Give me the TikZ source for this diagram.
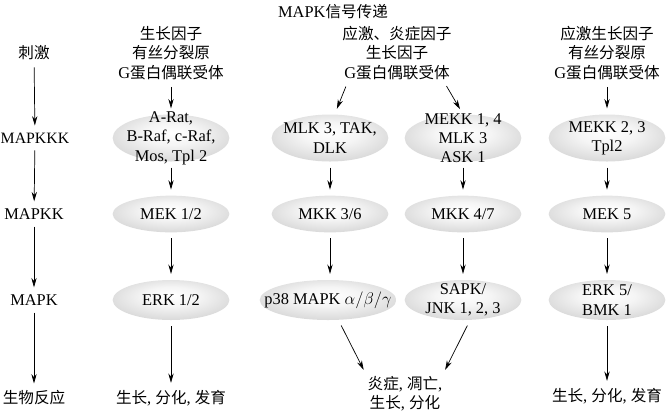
\documentclass[tikz,border=0pt]{standalone}
\usepackage{fontspec}
\setmainfont{Liberation Serif}
\newfontfamily\cjk[Scale=0.95]{Noto Sans CJK SC}
\usetikzlibrary{shapes.geometric,arrows.meta}
\pgfdeclareradialshading{kinshade}{\pgfpoint{0bp}{6bp}}{color(0bp)=(white); color(12bp)=(black!4); color(50bp)=(black!30)}
\tikzset{
	every node/.style={font=\fontsize{14pt}{16.5pt}\selectfont},
	lbl/.style={align=center, inner sep=1pt},
	kinase/.style={ellipse, align=center, inner xsep=-13pt, inner ysep=-12pt,
		minimum width=3.5cm, minimum height=1.1cm, shade, shading=kinshade},
	arr/.style={-{Stealth[length=8pt,width=4.5pt]}, line width=0.6pt, shorten <=5pt, shorten >=5pt}
}

\begin{document}
\begin{tikzpicture}[x=0.03cm, y=-0.03cm]
	\useasboundingbox (0,0) rectangle (667,412);
	
	\node[lbl] (title) at (333,12) {MAPK{\cjk 信号传递}};
	
	% levels
	\node[lbl] (stim) at (34,53) {\cjk 刺激};
	\node[lbl, font=\fontsize{13.5pt}{16.5pt}\selectfont] (kkk) at (35,138) {MAPKKK};
	\node[lbl] (kk) at (34,214) {MAPKK};
	\node[lbl] (k) at (34,300) {MAPK};
	\node[lbl] (resp) at (34,398) {\cjk 生物反应};
	\draw[arr] (stim) -- (kkk);
	\draw[arr] (kkk) -- (kk);
	\draw[arr] (kk) -- (k);
	\draw[arr] (k) -- (resp);
	
	% ERK 1/2
	\node[lbl] (src1) at (171,53) {{\cjk 生长因子}\\{\cjk 有丝分裂原}\\G{\cjk 蛋白偶联受体}};
	\node[kinase, minimum height=1.41cm] (raf) at (171,138) {A-Rat,\\B-Raf, c-Raf,\\Mos, Tpl 2};
	\node[kinase] (mek) at (171,214) {MEK 1/2};
	\node[kinase, minimum height=1.2cm] (erk) at (171,300) {ERK 1/2};
	\node[lbl] (out1) at (171,398) {{\cjk 生长}, {\cjk 分化}, {\cjk 发育}};
	\draw[arr] (src1) -- (raf);
	\draw[arr] (raf) -- (mek);
	\draw[arr] (mek) -- (erk);
	\draw[arr] (erk) -- (out1);
	
	% p38 and JNK
	\node[lbl] (src2) at (397,53) {{\cjk 应激、炎症因子}\\{\cjk 生长因子}\\G{\cjk 蛋白偶联受体}};
	\node[kinase, minimum height=1.41cm] (mlk) at (330,138) {MLK 3, TAK,\\DLK};
	\node[kinase, minimum height=1.41cm] (mekk) at (463,138) {MEKK 1, 4\\MLK 3\\ASK 1};
	\node[kinase] (mkk36) at (330,214) {MKK 3/6};
	\node[kinase] (mkk47) at (463,214) {MKK 4/7};
	\node[kinase, minimum height=1.2cm] (p38) at (328,300) {p38 MAPK $\alpha/\beta/\gamma$};
	\node[kinase, minimum height=1.2cm] (jnk) at (463,300) {SAPK/\\JNK 1, 2, 3};
	\node[lbl] (out2) at (405,394) {{\cjk 炎症}, {\cjk 凋亡},\\{\cjk 生长}, {\cjk 分化}};
	\draw[arr] ([xshift=6pt]src2.south west) -- ([xshift=4pt]mlk.north);
	\draw[arr] ([xshift=-8pt]src2.south east) -- (mekk.north);
	\draw[arr] (mlk) -- (mkk36);
	\draw[arr] (mekk) -- (mkk47);
	\draw[arr] (mkk36) -- (mkk36 |- p38.north);
	\draw[arr] (mkk47) -- (jnk);
	\draw[arr] ([xshift=9pt]p38.south) -- ([xshift=-33pt]out2.north);
	\draw[arr] ([xshift=6pt]jnk.south) -- ([xshift=32pt]out2.north);
	
	% ERK 5
	\node[lbl] (src4) at (607,53) {{\cjk 应激生长因子}\\{\cjk 有丝分裂原}\\G{\cjk 蛋白偶联受体}};
	\node[kinase, minimum height=1.41cm] (mekk23) at (607,138) {MEKK 2, 3\\Tpl2};
	\node[kinase] (mek5) at (607,214) {MEK 5};
	\node[kinase, minimum height=1.2cm] (erk5) at (607,300) {ERK 5/\\BMK 1};
	\node[lbl] (out4) at (607,396) {{\cjk 生长}, {\cjk 分化}, {\cjk 发育}};
	\draw[arr] (src4) -- (mekk23);
	\draw[arr] (mekk23) -- (mek5);
	\draw[arr] (mek5) -- (erk5);
	\draw[arr] (erk5) -- (out4);
\end{tikzpicture}
\end{document}
